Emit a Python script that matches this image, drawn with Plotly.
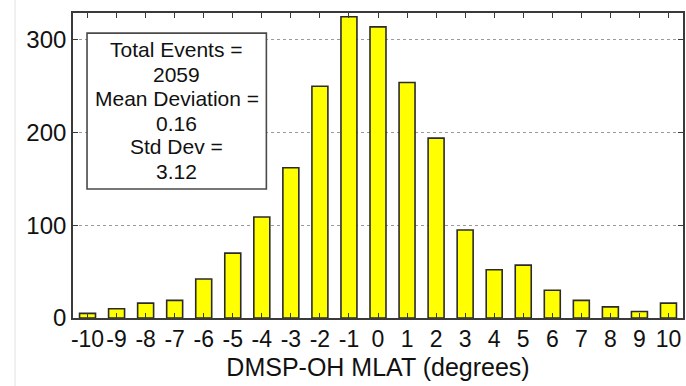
import plotly.graph_objects as go

# ---- data ----
mlat_bins = [-10, -9, -8, -7, -6, -5, -4, -3, -2, -1, 0, 1, 2, 3, 4, 5, 6, 7, 8, 9, 10]
counts = [5, 10, 16, 19, 42, 70, 109, 162, 250, 325, 314, 254, 194, 95, 52, 57, 30, 19, 12, 7, 16]
x_tick_vals = mlat_bins
x_tick_text = [str(v) for v in mlat_bins]
y_tick_vals = [0, 100, 200, 300]
stats_lines = ["Total Events =", "2059", "Mean Deviation =", "0.16", "Std Dev =", "3.12"]
x_title = "DMSP-OH MLAT (degrees)"

FONT = "Liberation Sans, Arial, sans-serif"
AXCOL = "#3a3a3a"
TXT = "#111111"

fig = go.Figure()
fig.add_trace(go.Bar(
    x=mlat_bins, y=counts, width=0.55,
    marker=dict(color="#ffff00", line=dict(color="#2b2b2b", width=1.6)),
    hoverinfo="x+y",
))

fig.update_layout(
    width=686, height=386,
    margin=dict(l=73, r=1, t=13, b=68),
    paper_bgcolor="white", plot_bgcolor="white",
    showlegend=False,
    font=dict(family=FONT, color=TXT),
)

fig.update_xaxes(
    range=[-10.5, 10.5],
    tickmode="array", tickvals=x_tick_vals, ticktext=x_tick_text,
    tickfont=dict(size=23, family=FONT, color=TXT),
    ticks="inside", ticklen=5, tickwidth=1.2, tickcolor=AXCOL,
    showline=True, linecolor=AXCOL, linewidth=1.6, mirror="ticks",
    showgrid=False, zeroline=False,
    title=dict(text=x_title, font=dict(size=25, family=FONT, color=TXT), standoff=7),
)
fig.update_yaxes(
    range=[0, 329],
    tickmode="array", tickvals=y_tick_vals,
    tickfont=dict(size=24, family=FONT, color=TXT),
    ticks="inside", ticklen=5, tickwidth=1.2, tickcolor=AXCOL,
    showline=True, linecolor=AXCOL, linewidth=1.6, mirror="ticks",
    showgrid=True, gridcolor="#9a9a9a", griddash="dot", gridwidth=1,
    zeroline=False,
)

# statistics box
fig.add_shape(type="rect", xref="paper", yref="paper",
              x0=0.023, x1=0.317, y0=0.423, y1=0.934,
              fillcolor="white", line=dict(color="#4a4a4a", width=1.6), layer="above")
line_y = [0.880, 0.797, 0.720, 0.638, 0.562, 0.480]
for txt, yy in zip(stats_lines, line_y):
    fig.add_annotation(xref="paper", yref="paper", x=0.170, y=yy,
                       text=txt, showarrow=False, xanchor="center", yanchor="middle",
                       font=dict(size=21, family=FONT, color=TXT))

# faint frame line at the far left of the picture
fig.add_shape(type="line", xref="paper", yref="paper",
              x0=-0.095, x1=-0.095, y0=-0.223, y1=1.043,
              line=dict(color="#e2e2e2", width=1))

fig.write_html("out.html",
               config={"displayModeBar": False},
               post_script="document.body.style.margin='0';document.body.style.overflow='hidden';")
